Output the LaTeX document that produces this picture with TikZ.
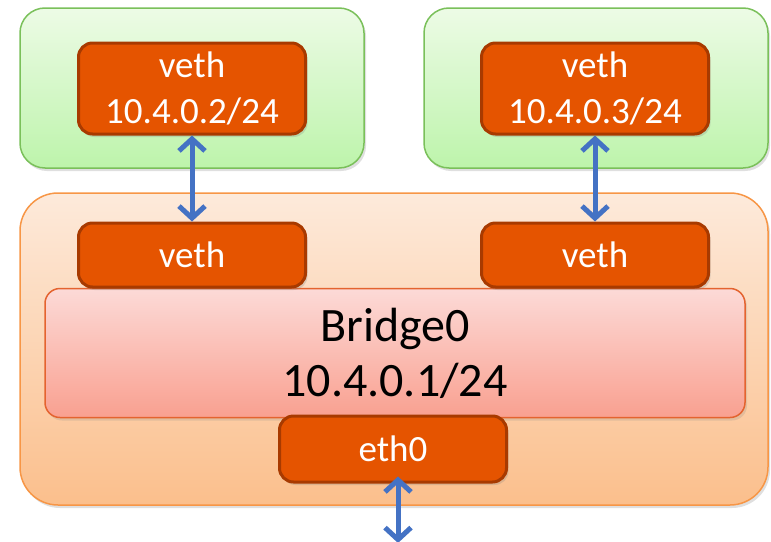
\documentclass[tikz,border=0pt]{standalone}
\usepackage{fontspec}
\setmainfont{Carlito}
\usetikzlibrary{arrows.meta,shadows}
\definecolor{nsline}{HTML}{7AC05A}
\definecolor{nstop}{HTML}{EDFBE6}
\definecolor{nsbot}{HTML}{BDF4AB}
\definecolor{hostline}{HTML}{F79646}
\definecolor{hosttop}{HTML}{FDEADB}
\definecolor{hostbot}{HTML}{FBBF8C}
\definecolor{ifill}{HTML}{E55400}
\definecolor{iline}{HTML}{A83A00}
\definecolor{brline}{HTML}{E4632F}
\definecolor{brtop}{HTML}{FCDAD7}
\definecolor{brbot}{HTML}{F9A090}
\definecolor{link}{HTML}{4472C4}
\tikzset{
  nsbox/.style={draw=nsline, line width=1.5pt, rounded corners=25pt, top color=nstop, bottom color=nsbot,
    minimum width=344pt, minimum height=160pt, inner sep=0pt,
    drop shadow={shadow xshift=2pt, shadow yshift=-3pt, opacity=0.25}},
  hostbox/.style={draw=hostline, line width=1.5pt, rounded corners=38pt, top color=hosttop, bottom color=hostbot,
    minimum width=748pt, minimum height=312pt, inner sep=0pt,
    drop shadow={shadow xshift=2pt, shadow yshift=-3pt, opacity=0.25}},
  brbox/.style={draw=brline, line width=1.5pt, rounded corners=15pt, top color=brtop, bottom color=brbot,
    minimum width=700pt, minimum height=129pt, inner sep=0pt, align=center,
    font=\fontsize{48}{55}\selectfont,
    drop shadow={shadow xshift=2pt, shadow yshift=-3pt, opacity=0.2}},
  ifbox/.style={draw=iline, line width=3pt, rounded corners=14pt, fill=ifill, text=white,
    minimum width=227pt, inner sep=0pt, align=center,
    font=\fontsize{37}{46}\selectfont,
    drop shadow={shadow xshift=2pt, shadow yshift=-3pt, opacity=0.25}},
  link/.style={draw=link, line width=5pt, {Straight Barb[length=12pt,width=26pt]}-{Straight Barb[length=12pt,width=26pt]}}
}
\begin{document}
\begin{tikzpicture}[x=1pt,y=-1pt]
\useasboundingbox (0,0) rectangle (771,541);

% namespaces
\node[nsbox] (ns1) at (192,88) {};
\node[nsbox] (ns2) at (596,88) {};
\node[hostbox] (host) at (394,349) {};

% bridge
\node[brbox] (br) at (395,353) {Bridge0\\10.4.0.1/24};

% interfaces
\node[ifbox, minimum height=91pt] (veth1) at (192,88.5) {veth\\10.4.0.2/24};
\node[ifbox, minimum height=91pt] (veth2) at (595,88.5) {veth\\10.4.0.3/24};
\node[ifbox, minimum height=64pt] (vetha) at (192,255) {veth};
\node[ifbox, minimum height=64pt] (vethb) at (595,255) {veth};
\node[ifbox, minimum height=66pt] (eth0) at (393,449) {eth0};

% links
\draw[link] (veth1.south) -- (vetha.north);
\draw[link] (veth2.south) -- (vethb.north);
\coordinate (out) at (398,543);
\draw[link, shorten <=-7pt] (eth0.south -| out) -- (out);
\end{tikzpicture}
\end{document}
